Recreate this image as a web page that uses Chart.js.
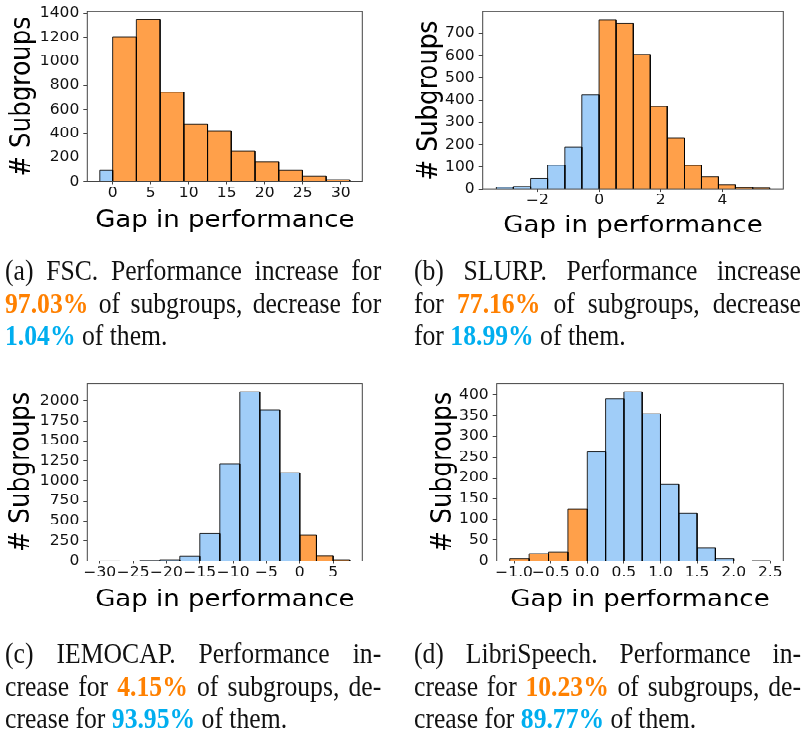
<!DOCTYPE html>
<html>
<head>
<meta charset="utf-8">
<script src="https://cdn.jsdelivr.net/npm/chart.js@4.4.1/dist/chart.umd.min.js"></script>
<style>
  html, body { margin: 0; padding: 0; background: #fff; overflow: hidden; }
  #fig { position: absolute; left: 0; top: 0; width: 802px; height: 831px;
         transform: scaleY(0.88); transform-origin: 0 0; }
  #fig canvas { position: absolute; }
  .cap { position: absolute; font-family: "Liberation Serif", "Times New Roman", serif;
         font-size: 28.5px; line-height: 32.5px; color: #111;
         transform: scaleX(0.9); transform-origin: 0 0; }
  .ln { white-space: nowrap; text-align: left; }
  .ln.j { text-align: justify; text-align-last: justify; }
  .inc { color: #ff8000; font-weight: bold; }
  .dec { color: #00aeef; font-weight: bold; }
</style>
</head>
<body>
<div id="fig">
  <canvas id="fsc" width="401" height="275" style="left:0px;top:0px"></canvas>
  <canvas id="slurp" width="401" height="285" style="left:401px;top:0px"></canvas>
  <canvas id="iemocap" width="401" height="285" style="left:0px;top:420px"></canvas>
  <canvas id="libri" width="401" height="285" style="left:401px;top:420px"></canvas>
</div>

<div class="cap" style="left:5px;top:255px;width:418px">
  <div class="ln j">(a) FSC. Performance increase for</div>
  <div class="ln j"><span class="inc">97.03%</span> of subgroups, decrease for</div>
  <div class="ln"><span class="dec">1.04%</span> of them.</div>
</div>
<div class="cap" style="left:414px;top:255px;width:430px">
  <div class="ln j">(b) SLURP. Performance increase</div>
  <div class="ln j">for <span class="inc">77.16%</span> of subgroups, decrease</div>
  <div class="ln">for <span class="dec">18.99%</span> of them.</div>
</div>
<div class="cap" style="left:5px;top:638px;width:418px">
  <div class="ln j">(c) IEMOCAP. Performance in-</div>
  <div class="ln j">crease for <span class="inc">4.15%</span> of subgroups, de-</div>
  <div class="ln">crease for <span class="dec">93.95%</span> of them.</div>
</div>
<div class="cap" style="left:414px;top:638px;width:430px">
  <div class="ln j">(d) LibriSpeech. Performance in-</div>
  <div class="ln j">crease for <span class="inc">10.23%</span> of subgroups, de-</div>
  <div class="ln">crease for <span class="dec">89.77%</span> of them.</div>
</div>

<script>
// ---- FSC ----
const fscDecEdges  = [-1.69, 0];
const fscDecCounts = [97];
const fscIncEdges  = [0, 3.12, 6.24, 9.36, 12.48, 15.6, 18.72, 21.84, 24.96, 28.08, 31.19];
const fscIncCounts = [1205, 1348, 745, 478, 421, 252, 166, 97, 46, 18];
const fscXTicks  = [0, 5, 10, 15, 20, 25, 30];
const fscXLabels = ['0', '5', '10', '15', '20', '25', '30'];
const fscYTicks  = [0, 200, 400, 600, 800, 1000, 1200, 1400];

// ---- SLURP ----
const slurpDecEdges  = [-3.33, -2.78, -2.22, -1.67, -1.11, -0.56, 0];
const slurpDecCounts = [9, 13, 50, 108, 190, 425];
const slurpIncEdges  = [0, 0.55, 1.11, 1.66, 2.21, 2.77, 3.32, 3.87, 4.42, 4.98, 5.53];
const slurpIncCounts = [761, 747, 607, 372, 230, 107, 57, 21, 7, 5];
const slurpXTicks  = [-2, 0, 2, 4];
const slurpXLabels = ['\u22122', '0', '2', '4'];
const slurpYTicks  = [0, 100, 200, 300, 400, 500, 600, 700];

// ---- IEMOCAP ----
const iemoDecEdges  = [-30, -27, -24, -21, -18, -15, -12, -9, -6, -3, 0];
const iemoDecCounts = [1, 0, 7, 16, 58, 342, 1217, 2117, 1888, 1104];
const iemoIncEdges  = [0, 2.5, 5, 7.5];
const iemoIncCounts = [324, 62, 16];
const iemoXTicks  = [-30, -25, -20, -15, -10, -5, 0, 5];
const iemoXLabels = ['\u221230', '\u221225', '\u221220', '\u221215', '\u221210', '\u22125', '0', '5'];
const iemoYTicks  = [0, 250, 500, 750, 1000, 1250, 1500, 1750, 2000];

// ---- LibriSpeech ----
const libriIncEdges  = [-1.06, -0.795, -0.53, -0.265, 0];
const libriIncCounts = [6, 18, 22, 126];
const libriDecEdges  = [0, 0.25, 0.5, 0.75, 1.0, 1.25, 1.5, 1.75, 2.0, 2.25, 2.5];
const libriDecCounts = [263, 392, 408, 355, 185, 115, 31, 6, 0, 1];
const libriXTicks  = [-1, -0.5, 0, 0.5, 1, 1.5, 2, 2.5];
const libriXLabels = ['\u22121.0', '\u22120.5', '0.0', '0.5', '1.0', '1.5', '2.0', '2.5'];
const libriYTicks  = [0, 50, 100, 150, 200, 250, 300, 350, 400];

const ORANGE = '#ffa04a';
const BLUE   = '#a0cdf8';
const EDGE   = 'rgba(0,0,0,0.85)';
const FONT   = '"DejaVu Sans", sans-serif';
const X_TITLE_SIZE = 26;
const Y_TITLE_SIZE = 28;
const TICK_SIZE = 15.5;

// one closed outline per histogram bin
function binDatasets(edges, counts, color) {
  return counts.map((c, i) => ({
    data: [
      { x: edges[i], y: 0 }, { x: edges[i], y: c },
      { x: edges[i + 1], y: c }, { x: edges[i + 1], y: 0 }
    ],
    showLine: true,
    fill: 'origin',
    backgroundColor: color,
    borderColor: EDGE,
    borderWidth: 1,
    pointRadius: 0,
    tension: 0
  }));
}

const frame = {
  id: 'frame',
  afterDatasetsDraw(chart) {
    const a = chart.chartArea, ctx = chart.ctx;
    ctx.save();
    ctx.strokeStyle = '#444';
    ctx.lineWidth = 1;
    ctx.strokeRect(a.left, a.top, a.right - a.left, a.bottom - a.top);
    ctx.restore();
  }
};

// geometry: canvas box + target plot rectangle + title centre lines
function makeHist(id, groups, xTicks, xLabels, yTicks, g) {
  const allEdges = groups.flatMap(gr => gr.edges);
  const allCounts = groups.flatMap(gr => gr.counts);
  const lo = Math.min(...allEdges), hi = Math.max(...allEdges);
  const pad = 0.05 * (hi - lo);
  const yMax = 1.05 * Math.max(...allCounts);

  const pl = g.yTitleX - Y_TITLE_SIZE / 2 - g.left;
  const yw = g.plotLeft - g.left - pl;
  const pt = g.plotTop - g.top;
  const pr = g.left + g.width - g.plotRight;
  const pb = g.top + g.height - g.xTitleY - X_TITLE_SIZE / 2;
  const xh = g.top + g.height - g.plotBottom - pb;

  const datasets = groups.flatMap(gr => binDatasets(gr.edges, gr.counts, gr.color));

  new Chart(document.getElementById(id), {
    type: 'scatter',
    data: { datasets },
    plugins: [frame],
    options: {
      responsive: false,
      animation: false,
      events: [],
      layout: { padding: { left: pl, top: pt, right: pr, bottom: pb } },
      plugins: { legend: { display: false }, tooltip: { enabled: false } },
      scales: {
        x: {
          type: 'linear',
          min: lo - pad,
          max: hi + pad,
          afterBuildTicks: s => { s.ticks = xTicks.map(v => ({ value: v })); },
          afterFit: s => { s.height = xh; },
          border: { display: false },
          grid: { display: true, drawOnChartArea: false, drawTicks: true, tickLength: 3, color: '#444' },
          ticks: {
            autoSkip: false, maxRotation: 0, minRotation: 0, padding: 1,
            color: '#111', font: { family: FONT, size: TICK_SIZE },
            callback: (v, i) => xLabels[i]
          },
          title: {
            display: true, text: 'Gap in performance', color: '#000',
            font: { family: FONT, size: X_TITLE_SIZE, lineHeight: 1 }, padding: 0
          }
        },
        y: {
          type: 'linear',
          min: 0,
          max: yMax,
          afterBuildTicks: s => { s.ticks = yTicks.map(v => ({ value: v })); },
          afterFit: s => { s.width = yw; },
          border: { display: false },
          grid: { display: true, drawOnChartArea: false, drawTicks: true, tickLength: 4, color: '#444' },
          ticks: {
            autoSkip: false, padding: 4,
            color: '#111', font: { family: FONT, size: TICK_SIZE },
            callback: v => String(v)
          },
          title: {
            display: true, text: '# Subgroups', color: '#000',
            font: { family: FONT, size: Y_TITLE_SIZE, lineHeight: 1 }, padding: 0
          }
        }
      }
    }
  });
}

makeHist('fsc',
  [{ edges: fscDecEdges, counts: fscDecCounts, color: BLUE },
   { edges: fscIncEdges, counts: fscIncCounts, color: ORANGE }],
  fscXTicks, fscXLabels, fscYTicks,
  { left: 0, top: 0, width: 401, height: 275,
    plotLeft: 87.3, plotTop: 9.4, plotRight: 362.3, plotBottom: 206.5,
    yTitleX: 23, xTitleY: 251 });

makeHist('slurp',
  [{ edges: slurpDecEdges, counts: slurpDecCounts, color: BLUE },
   { edges: slurpIncEdges, counts: slurpIncCounts, color: ORANGE }],
  slurpXTicks, slurpXLabels, slurpYTicks,
  { left: 401, top: 0, width: 401, height: 285,
    plotLeft: 482.7, plotTop: 4.5, plotRight: 783.3, plotBottom: 215.1,
    yTitleX: 430, xTitleY: 257.5 });

makeHist('iemocap',
  [{ edges: iemoDecEdges, counts: iemoDecCounts, color: BLUE },
   { edges: iemoIncEdges, counts: iemoIncCounts, color: ORANGE }],
  iemoXTicks, iemoXLabels, iemoYTicks,
  { left: 0, top: 420, width: 401, height: 285,
    plotLeft: 87.3, plotTop: 435.6, plotRight: 362.3, plotBottom: 637.5,
    yTitleX: 22, xTitleY: 682 });

makeHist('libri',
  [{ edges: libriIncEdges, counts: libriIncCounts, color: ORANGE },
   { edges: libriDecEdges, counts: libriDecCounts, color: BLUE }],
  libriXTicks, libriXLabels, libriYTicks,
  { left: 401, top: 420, width: 401, height: 285,
    plotLeft: 496.7, plotTop: 435.6, plotRight: 783.3, plotBottom: 637.5,
    yTitleX: 444, xTitleY: 682 });
</script>
</body>
</html>
